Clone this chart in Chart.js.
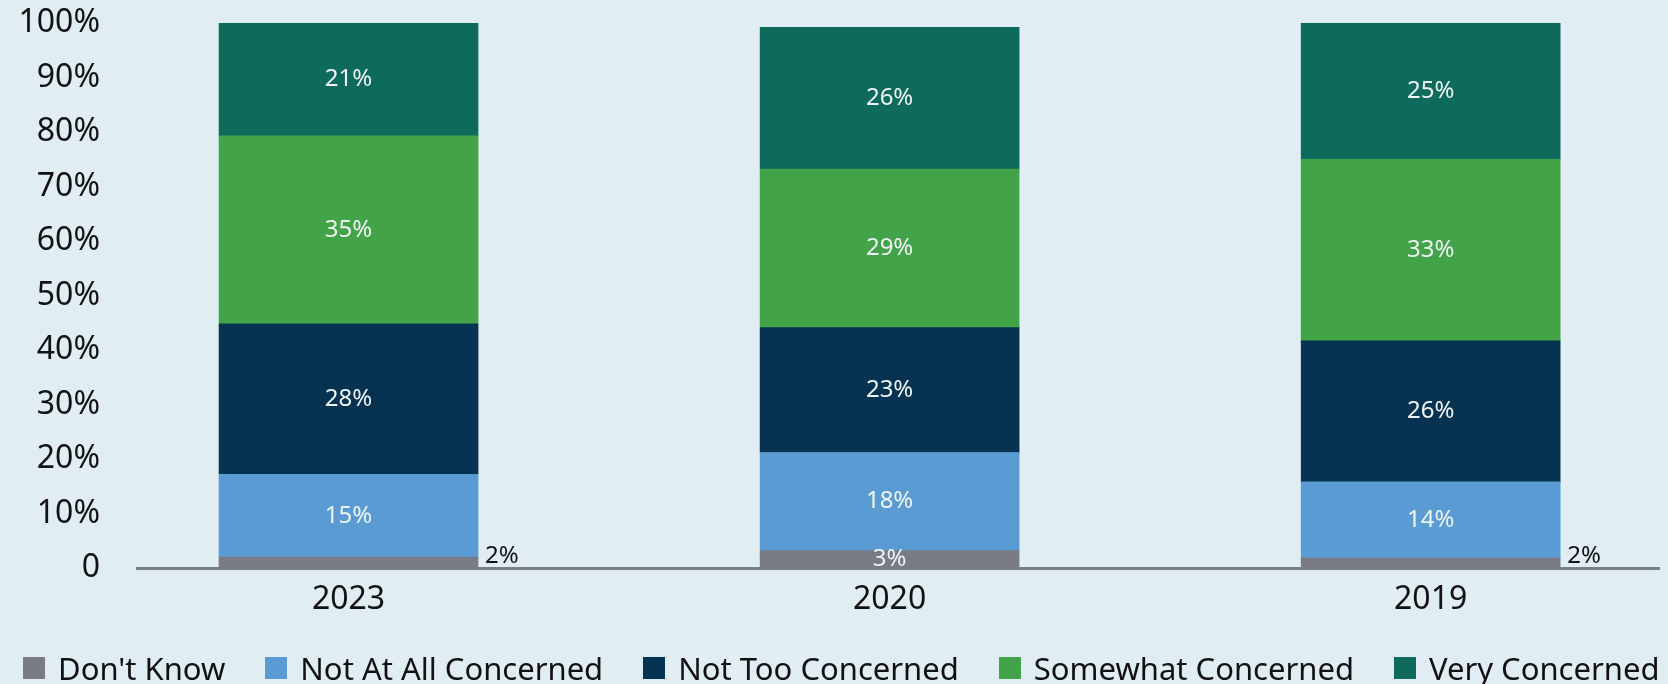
<!DOCTYPE html>
<html>
<head>
<meta charset="utf-8">
<script src="https://cdn.jsdelivr.net/npm/chart.js@4.4.1/dist/chart.umd.min.js"></script>
<style>
  html, body { margin:0; padding:0; background:#e0edf3; }
  #wrap { width:1668px; height:684px; position:relative; }
  #legend {
    position:absolute; left:23px; top:652px; height:32px;
    display:flex; align-items:center; gap:40px;
    font-family:"Noto Sans", sans-serif; font-size:31px; color:#111;
    white-space:nowrap;
  }
  .legend-item { display:flex; align-items:center; line-height:32px; }
  .legend-box { width:22px; height:22px; margin-right:13px; display:inline-block; }
</style>
</head>
<body>
<div id="wrap">
  <canvas id="chart"></canvas>
  <div id="legend"></div>
</div>
<script>
// --- datos ---
const YEARS = ["2023", "2020", "2019"];
const SERIES_NAMES = ["Don't Know", "Not At All Concerned", "Not Too Concerned", "Somewhat Concerned", "Very Concerned"];
const DONT_KNOW   = [2.0, 3.2, 1.8];
const NOT_AT_ALL  = [15.2, 18.0, 14.0];
const NOT_TOO     = [27.6, 22.9, 25.9];
const SOMEWHAT    = [34.5, 29.1, 33.3];
const VERY        = [20.7, 26.0, 25.0];
const Y_TICKS     = [0, 10, 20, 30, 40, 50, 60, 70, 80, 90, 100];

const SERIES_VALUES = [DONT_KNOW, NOT_AT_ALL, NOT_TOO, SOMEWHAT, VERY];
const COLORS = ["#797c86", "#5b9bd3", "#073352", "#43a349", "#0e6b5c"];

const FONT = '"Noto Sans", sans-serif';
Chart.defaults.font.family = FONT;
Chart.defaults.color = "#111";

// leyenda en HTML, a partir de los items del propio chart
const htmlLegend = {
  id: 'htmlLegend',
  afterUpdate(chart){
    const items = chart.options.plugins.legend.labels.generateLabels(chart);
    document.getElementById('legend').innerHTML = items.map(it => `
      <div class="legend-item">
        <span class="legend-box" style="background:${it.fillStyle}"></span>${it.text}
      </div>`).join('');
  }
};

// percentage labels on each segment
const segmentLabels = {
  id: 'segmentLabels',
  afterDatasetsDraw(chart){
    const ctx = chart.ctx;
    ctx.save();
    ctx.font = `24px ${FONT}`;
    chart.data.datasets.forEach((ds, di) => {
      const meta = chart.getDatasetMeta(di);
      meta.data.forEach((bar, i) => {
        const v = ds.data[i].y;
        const txt = Math.round(v) + "%";
        if (v < 2.5) {
          ctx.fillStyle = "#111";
          ctx.textAlign = "left";
          ctx.textBaseline = "alphabetic";
          ctx.fillText(txt, bar.x + bar.width / 2 + 7, bar.base - 5);
        } else {
          ctx.fillStyle = "#eef4f4";
          ctx.textAlign = "center";
          ctx.textBaseline = "middle";
          ctx.fillText(txt, bar.x, (bar.y + bar.base) / 2);
        }
      });
    });
    ctx.restore();
  }
};

new Chart(document.getElementById('chart'), {
  type: 'bar',
  data: {
    datasets: SERIES_NAMES.map((name, s) => ({
      label: name,
      data: SERIES_VALUES[s].map((v, i) => ({x: i, y: v})),
      backgroundColor: COLORS[s],
      borderWidth: 0,
      barThickness: 259
    }))
  },
  options: {
    responsive: true,
    maintainAspectRatio: false,
    animation: false,
    layout: { padding: { top: 23, right: 9, left: 0, bottom: 63 } },
    plugins: {
      tooltip: { enabled: false },
      legend: { display: false }
    },
    scales: {
      x: {
        type: 'linear',
        stacked: true,
        offset: false,
        min: -0.391,
        max: 2.422,
        afterBuildTicks: (scale) => { scale.ticks = YEARS.map((_, i) => ({value: i})); },
        afterFit: (scale) => { scale.height = 53; },
        ticks: {
          callback: (v) => YEARS[v],
          font: { size: 32 }, color: "#111", padding: 13
        },
        grid: { display: false, drawTicks: false, offset: false },
        border: { display: true, color: "#7b7f87", width: 3 }
      },
      y: {
        stacked: true,
        min: 0, max: 100,
        afterBuildTicks: (scale) => { scale.ticks = Y_TICKS.map(v => ({value: v})); },
        afterFit: (scale) => { scale.width = 137; },
        ticks: {
          callback: (v) => v === 0 ? "0" : v + "%",
          font: { size: 32 }, color: "#111", padding: 0
        },
        grid: { display: false, drawTicks: true, tickLength: 37 },
        border: { display: false }
      }
    }
  },
  plugins: [htmlLegend, segmentLabels]
});
</script>
</body>
</html>
